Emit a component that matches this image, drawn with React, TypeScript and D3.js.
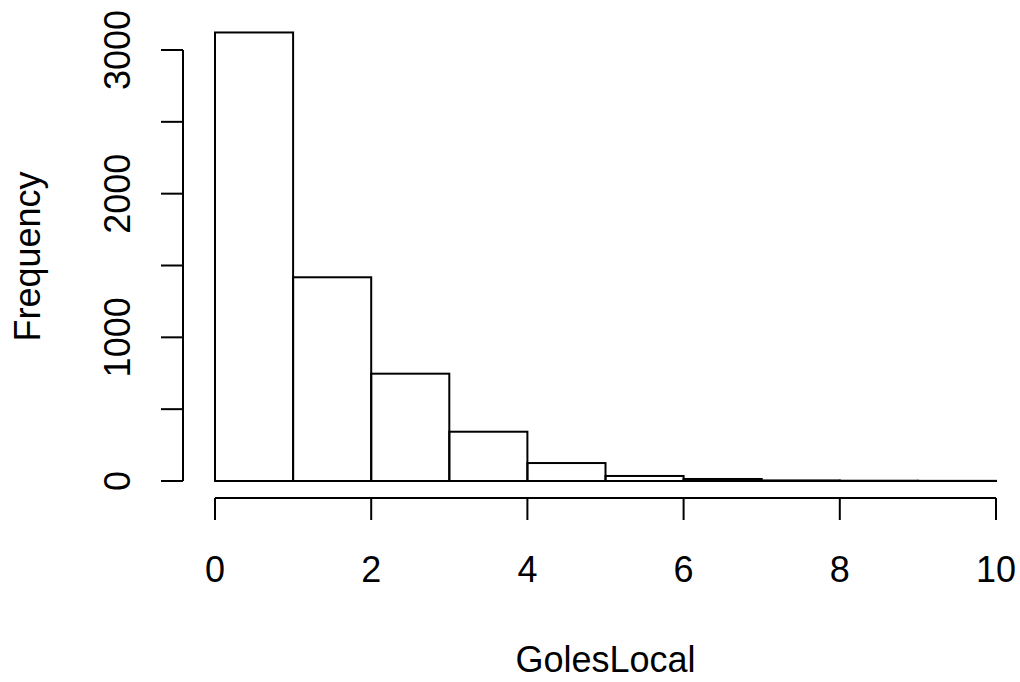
import React from "react";
import * as d3 from "d3";

const binEdges = [0, 1, 2, 3, 4, 5, 6, 7, 8, 9, 10];
const counts = [3122, 1418, 747, 343, 125, 35, 14, 4, 2, 1];
const xTicks = [0, 2, 4, 6, 8, 10];
const yTicks = [0, 500, 1000, 1500, 2000, 2500, 3000];
const yLabels = [0, 1000, 2000, 3000];
const xTitle = "GolesLocal";
const yTitle = "Frequency";

const W = 1020;
const H = 682;
const FONT = "'Liberation Sans', Arial, Helvetica, sans-serif";
const FS = 36;

export default function App() {
  const x = d3.scaleLinear().domain([0, 10]).range([215, 996]);
  const y = d3.scaleLinear().domain([0, 3000]).range([481, 50]);
  const bins = counts.map((c, i) => ({ x0: binEdges[i], x1: binEdges[i + 1], c }));
  const axisY = 498;
  const axisX = 183;
  const tickLen = 22;
  const midX = (x(0) + x(10)) / 2;
  const midY = (y(-125) + y(3250)) / 2;
  return (
    <svg
      width={W}
      height={H}
      style={{ position: "absolute", left: 0, top: 0, background: "#fff" }}
      fontFamily={FONT}
    >
      <rect x={0} y={0} width={W} height={H} fill="#fff" />
      {bins.map((b, i) => (
        <rect
          key={i}
          x={x(b.x0)}
          y={y(b.c)}
          width={x(b.x1) - x(b.x0)}
          height={y(0) - y(b.c)}
          fill="none"
          stroke="#000"
          strokeWidth={2}
        />
      ))}
      {/* x axis */}
      <line x1={x(0)} x2={x(10)} y1={axisY} y2={axisY} stroke="#000" strokeWidth={2} />
      {xTicks.map((t) => (
        <g key={t}>
          <line x1={x(t)} x2={x(t)} y1={axisY} y2={axisY + tickLen} stroke="#000" strokeWidth={2} />
          <text x={x(t)} y={582} textAnchor="middle" fontSize={FS} fill="#000">
            {t}
          </text>
        </g>
      ))}
      {/* y axis */}
      <line x1={axisX} x2={axisX} y1={y(0)} y2={y(3000)} stroke="#000" strokeWidth={2} />
      {yTicks.map((t) => (
        <line key={t} x1={axisX - tickLen} x2={axisX} y1={y(t)} y2={y(t)} stroke="#000" strokeWidth={2} />
      ))}
      {yLabels.map((t) => (
        <text
          key={t}
          transform={`translate(130,${y(t)}) rotate(-90)`}
          textAnchor="middle"
          fontSize={FS}
          fill="#000"
        >
          {t}
        </text>
      ))}
      <text x={midX} y={672} textAnchor="middle" fontSize={FS} fill="#000">
        {xTitle}
      </text>
      <text
        transform={`translate(40,${midY}) rotate(-90)`}
        textAnchor="middle"
        fontSize={FS}
        fill="#000"
      >
        {yTitle}
      </text>
    </svg>
  );
}
